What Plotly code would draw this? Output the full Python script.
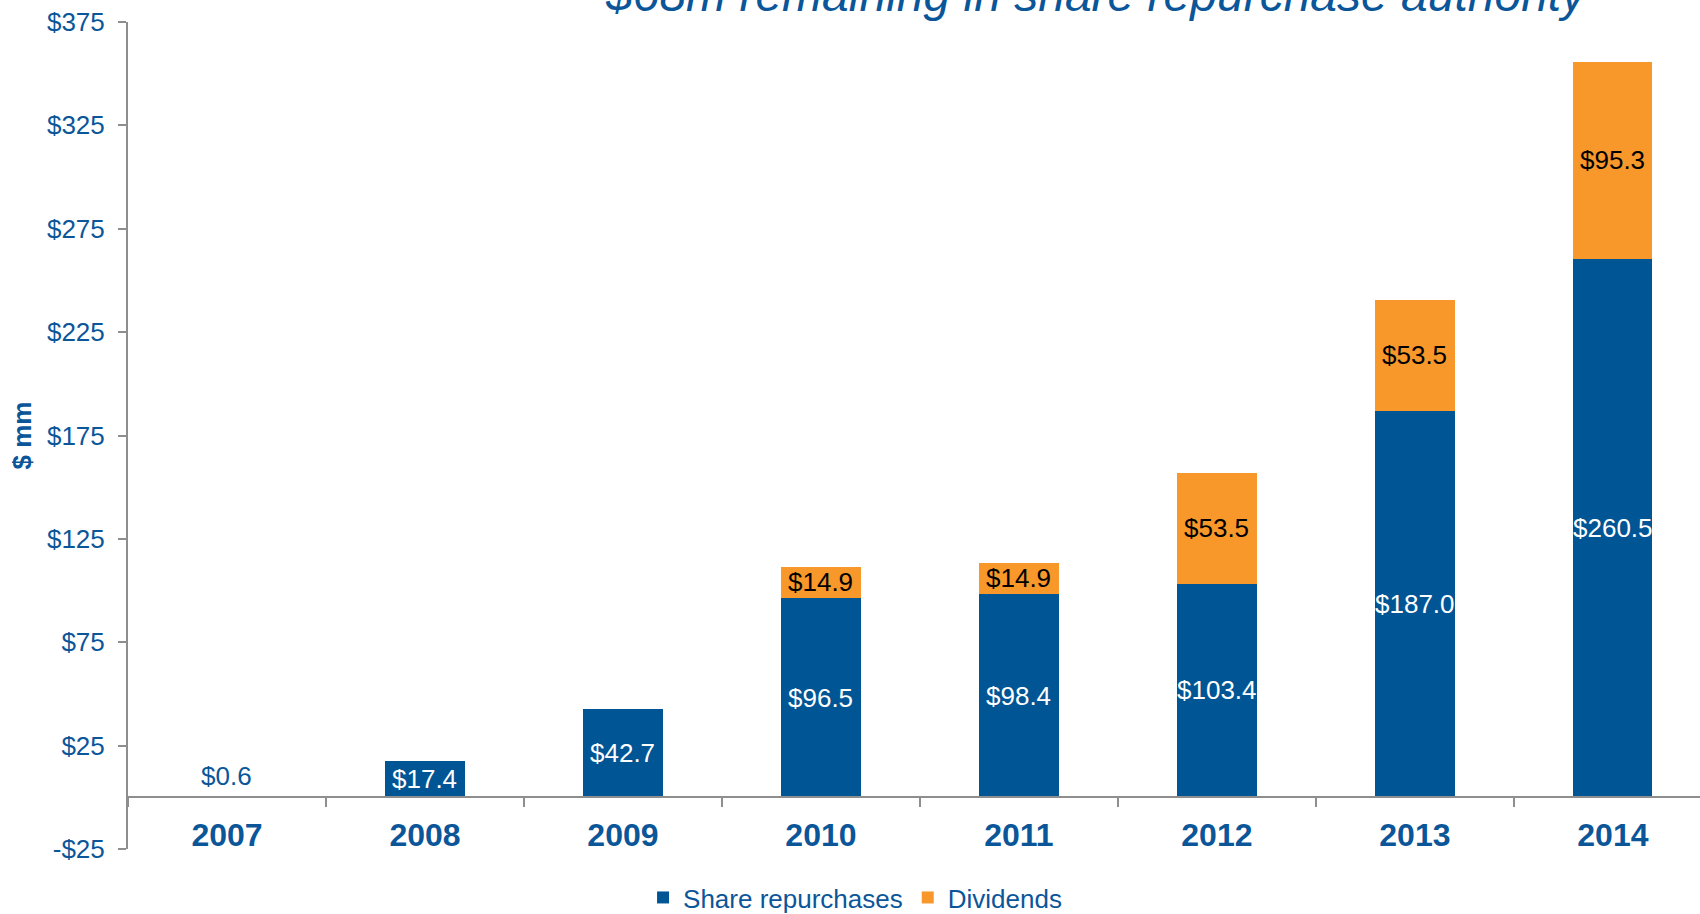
import plotly.graph_objects as go

# Cash returned to shareholders, $ millions
years = ["2007", "2008", "2009", "2010", "2011", "2012", "2013", "2014"]
share_repurchases = [0.6, 17.4, 42.7, 96.5, 98.4, 103.4, 187.0, 260.5]
dividends = [None, None, None, 14.9, 14.9, 53.5, 53.5, 95.3]

y_tickvals = [-25, 25, 75, 125, 175, 225, 275, 325, 375]
y_ticktext = ["-$25", "$25", "$75", "$125", "$175", "$225", "$275", "$325", "$375"]

title_text = "$68m remaining in share repurchase authority"

BLUE = "#005595"
ORANGE = "#F8972A"
TEXT_BLUE = "#0B5699"
GRAY = "#8E8E8E"
FONT = "Arial, Liberation Sans, sans-serif"

fig = go.Figure()
fig.add_trace(go.Bar(
    x=years, y=share_repurchases, name="Share repurchases",
    marker=dict(color=BLUE, line=dict(width=0)), width=0.4,
))
fig.add_trace(go.Bar(
    x=years, y=dividends, name="Dividends",
    marker=dict(color=ORANGE, line=dict(width=0)), width=0.4,
))

annotations = []
# value labels for each segment (x given as category index)
for i, (rep, div) in enumerate(zip(share_repurchases, dividends)):
    if div is None and rep < 5:
        annotations.append(dict(
            x=i, y=rep, text=f"${rep:.1f}", showarrow=False,
            yanchor="bottom", yshift=3,
            font=dict(family=FONT, size=26, color=TEXT_BLUE)))
    else:
        annotations.append(dict(
            x=i, y=rep / 2, text=f"${rep:.1f}", showarrow=False,
            yanchor="middle",
            font=dict(family=FONT, size=26, color="white")))
    if div is not None:
        annotations.append(dict(
            x=i, y=rep + div / 2, text=f"${div:.1f}", showarrow=False,
            yanchor="middle",
            font=dict(family=FONT, size=26, color="black")))

# headline, partly running off the top edge
annotations.append(dict(
    xref="paper", yref="paper", x=0.616, y=1.0, xanchor="center", yanchor="bottom",
    yshift=-1,
    text=f"<i>{title_text}</i>", showarrow=False,
    font=dict(family=FONT, size=48, color=TEXT_BLUE)))

fig.update_layout(
    width=1700, height=914,
    margin=dict(l=128, r=0, t=22, b=65, autoexpand=False),
    barmode="stack",
    plot_bgcolor="white", paper_bgcolor="white",
    font=dict(family=FONT, color=TEXT_BLUE),
    showlegend=True,
    legend=dict(
        orientation="h", x=0.4625, xanchor="center",
        yref="container", y=0.018, yanchor="middle",
        font=dict(family=FONT, size=26, color=TEXT_BLUE),
        bgcolor="rgba(0,0,0,0)", traceorder="normal",
    ),
    annotations=annotations,
    xaxis=dict(
        type="category", range=[-0.5, 7.44],
        anchor="free", position=0.0625,
        showline=True, linecolor=GRAY, linewidth=2,
        ticks="outside", tickson="boundaries", ticklen=9, tickcolor=GRAY, tickwidth=2,
        ticklabelstandoff=9,
        tickfont=dict(family=FONT, size=32, color=TEXT_BLUE, weight="bold"),
        showgrid=False, zeroline=False, automargin=False,
    ),
    yaxis=dict(
        range=[-25, 375],
        tickvals=y_tickvals, ticktext=y_ticktext,
        showline=True, linecolor=GRAY, linewidth=2,
        ticks="outside", ticklen=8, tickcolor=GRAY, tickwidth=2,
        ticklabelstandoff=8,
        tickfont=dict(family=FONT, size=26, color=TEXT_BLUE),
        showgrid=False, zeroline=False, automargin=False,
        title=dict(text="<b>$ mm</b>", standoff=8,
                   font=dict(family=FONT, size=26, color=TEXT_BLUE)),
    ),
)

fig.write_html("out.html")
